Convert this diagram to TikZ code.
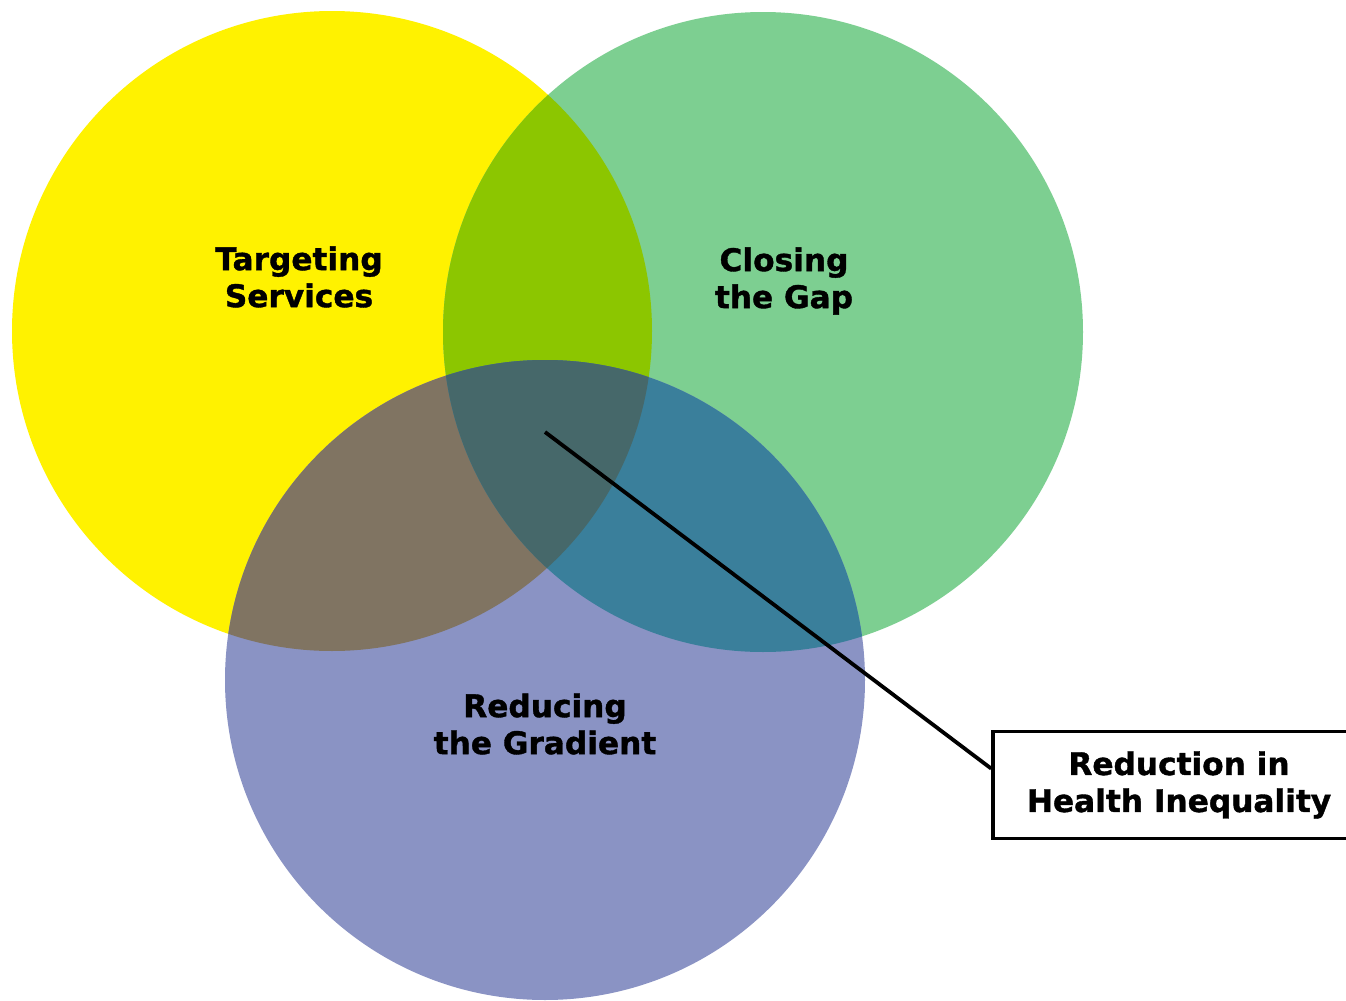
\documentclass[tikz,border=0pt]{standalone}
\usepackage{fontspec}
\setmainfont{DejaVu Sans}
\newfontfamily\heavyfont[FakeBold=1.2]{DejaVu Sans Bold}
\definecolor{ycol}{RGB}{255,242,0}
\definecolor{gcol}{RGB}{125,207,145}
\definecolor{bcol}{RGB}{138,147,196}
\definecolor{ygcol}{RGB}{140,198,0}
\definecolor{ybcol}{RGB}{128,116,98}
\definecolor{gbcol}{RGB}{58,127,155}
\definecolor{tcol}{RGB}{70,104,106}
\tikzset{
  lbl/.style={align=center, inner sep=0pt, font=\fontsize{15.6}{18.5}\selectfont\heavyfont, text=black},
  infobox/.style={draw=black, line width=1.8pt, fill=white, minimum width=186pt, minimum height=53.5pt, align=center, inner sep=0pt, font=\fontsize{15.6}{18.5}\selectfont\heavyfont},
  leader/.style={draw=black, line width=1.9pt}
}
\begin{document}
\begin{tikzpicture}[x=0.5pt,y=-0.5pt]
\useasboundingbox (0,0) rectangle (1346,1001);
\fill[white] (0,0) rectangle (1346,1001);
\coordinate (Y) at (332,331);
\coordinate (G) at (763,332);
\coordinate (B) at (545,680);
\def\R{160pt}
\fill[ycol] (Y) circle[radius=\R];
\fill[gcol] (G) circle[radius=\R];
\fill[bcol] (B) circle[radius=\R];
\begin{scope}
  \clip (Y) circle[radius=\R];
  \fill[ygcol] (G) circle[radius=\R];
  \fill[ybcol] (B) circle[radius=\R];
\end{scope}
\begin{scope}
  \clip (G) circle[radius=\R];
  \fill[gbcol] (B) circle[radius=\R];
\end{scope}
\begin{scope}
  \clip (Y) circle[radius=\R];
  \clip (G) circle[radius=\R];
  \fill[tcol] (B) circle[radius=\R];
\end{scope}
\node[lbl] (ts) at (299,277) {Targeting\\Services};
\node[lbl] (cg) at (784,281) {Closing\\the Gap};
\node[lbl] (rg) at (545,724) {Reducing\\the Gradient};
\node[infobox] (box) at (1179,785) {Reduction in\\Health Inequality};
\coordinate (tip) at (545,432);
\draw[leader] (tip) -- (box.175);
\end{tikzpicture}
\end{document}
